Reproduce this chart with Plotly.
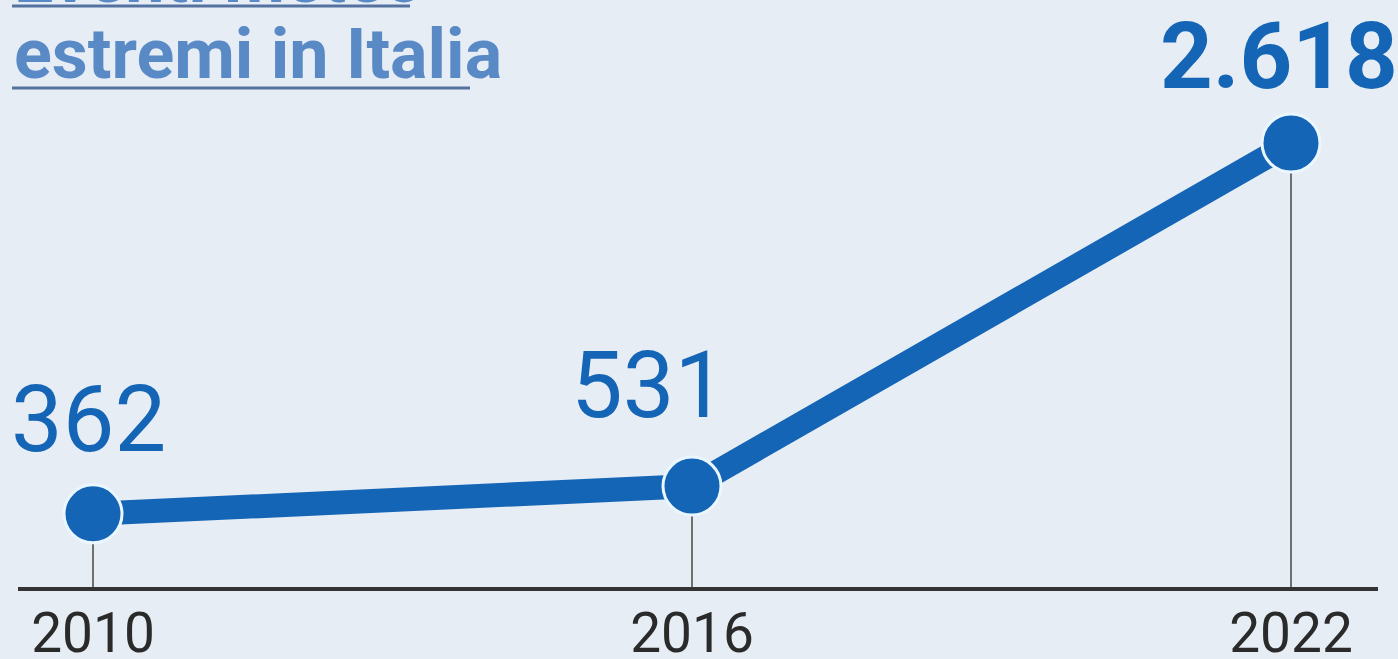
import plotly.graph_objects as go

# Data
years = [2010, 2016, 2022]
events = [362, 531, 2618]
value_labels = ["362", "531", "2.618"]
tick_labels = ["2010", "2016", "2022"]
title_lines = ["Eventi meteo", "estremi in Italia"]

W, H = 1398, 659
M_L, M_R, M_T, M_B = 18, 20, 100, 72
PLOT_W = W - M_L - M_R
PLOT_H = H - M_T - M_B

BG = "#e6edf5"
BLUE = "#1565b6"
TITLE_BLUE = "#5a8ac6"
FONT = "Roboto"


def px_x(px):
    return (px - M_L) / PLOT_W


def px_y(py):
    return 1 - (py - M_T) / PLOT_H


fig = go.Figure()

fig.add_trace(go.Scatter(
    x=years, y=events,
    mode="lines+markers",
    line=dict(color=BLUE, width=24),
    marker=dict(size=58, color=BLUE, line=dict(color="#eaf7ff", width=3)),
    hoverinfo="skip",
    showlegend=False,
))

y_min, y_max = -83, 2880

# thin drop lines from each point to the baseline
for yr, v in zip(years, events):
    fig.add_shape(type="line", xref="x", yref="y", x0=yr, x1=yr, y0=y_min, y1=v,
                  line=dict(color="#707070", width=2), layer="below")

# value labels above the points
label_style = [(-5, 94, 400, 92), (-44, 101, 400, 92), (-12, 87, 700, 92)]
for yr, v, txt, (dx, dy, wt, sz) in zip(years, events, value_labels, label_style):
    fig.add_annotation(x=yr, y=v, xref="x", yref="y", text=txt, showarrow=False,
                       xanchor="center", yanchor="middle", xshift=dx, yshift=dy,
                       font=dict(family=FONT, size=sz, color=BLUE, weight=wt))

# headline, two underlined lines
title_rows = [(-22, 6, 410), (54, 88, 470)]
for txt, (cy, uy, ux1) in zip(title_lines, title_rows):
    fig.add_annotation(x=px_x(12), y=px_y(cy), xref="paper", yref="paper", text=txt,
                       showarrow=False, xanchor="left", yanchor="middle",
                       font=dict(family=FONT, size=70, color=TITLE_BLUE, weight=700))
    fig.add_shape(type="line", xref="paper", yref="paper",
                  x0=px_x(12), x1=px_x(ux1), y0=px_y(uy), y1=px_y(uy),
                  line=dict(color="#5472a0", width=3))

fig.update_layout(
    width=W, height=H,
    margin=dict(l=M_L, r=M_R, t=M_T, b=M_B),
    paper_bgcolor=BG, plot_bgcolor=BG,
    xaxis=dict(range=[2009.2487, 2022.8715], tickvals=years, ticktext=tick_labels,
               showgrid=False, zeroline=False, showline=True, linecolor="#333333",
               linewidth=4, ticks="", ticklabelstandoff=-5, automargin=False,
               tickfont=dict(family=FONT, size=55, color="#2a2a2a")),
    yaxis=dict(range=[y_min, y_max], visible=False, automargin=False),
)

fig.write_html("out.html")
